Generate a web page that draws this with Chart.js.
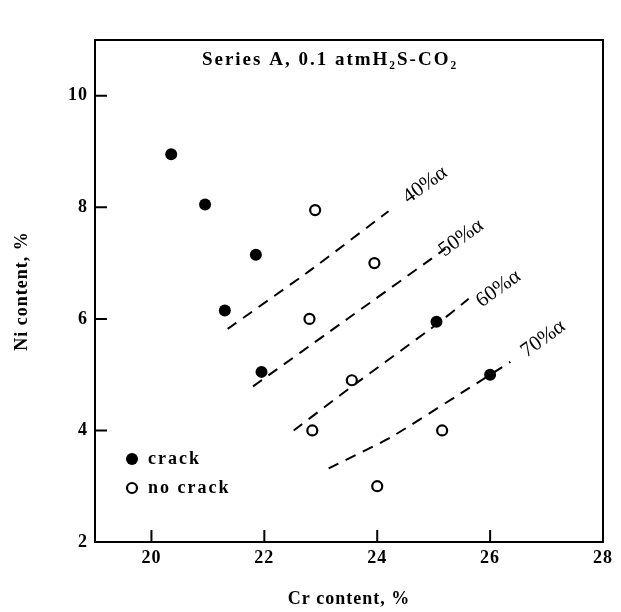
<!DOCTYPE html>
<html>
<head>
<meta charset="utf-8">
<script src="https://cdn.jsdelivr.net/npm/chart.js@4.4.1/dist/chart.umd.min.js"></script>
<style>
  html, body { margin: 0; padding: 0; background: #fff; }
  #wrap { width: 621px; height: 612px; position: relative; }
</style>
</head>
<body>
<div id="wrap"><canvas id="graph"></canvas></div>
<script>
// data (Cr %, Ni %)
var crackCr = [20.35, 20.95, 21.85, 21.3, 21.95, 25.05, 26.0];
var crackNi = [8.95, 8.05, 7.15, 6.15, 5.05, 5.95, 5.0];
var noCrackCr = [22.9, 23.95, 22.8, 23.55, 22.85, 25.15, 24.0];
var noCrackNi = [7.95, 7.0, 6.0, 4.9, 4.0, 4.0, 3.0];

// iso-ferrite lines
var line40Cr = [21.35, 22.8, 24.2];
var line40Ni = [5.82, 6.86, 7.93];
var line50Cr = [21.8, 23.5, 25.21];
var line50Ni = [4.79, 6.02, 7.26];
var line60Cr = [22.52, 23.54, 25.05, 25.62];
var line60Ni = [4.0, 4.78, 5.9, 6.36];
var line70Cr = [23.14, 24.23, 25.52, 26.36];
var line70Ni = [3.32, 3.87, 4.69, 5.23];

var lineNames = ['40%α', '50%α', '60%α', '70%α'];
var lineLabelCr = [24.85, 25.49, 26.15, 26.94];
var lineLabelNi = [8.40, 7.45, 6.54, 5.64];

var xTicks = [20, 22, 24, 26, 28];
var yTicks = [2, 4, 6, 8, 10];

function pts(xs, ys) {
    var out = [];
    for (var i = 0; i < xs.length; i++) {
        out.push({x: xs[i], y: ys[i]});
    }
    return out;
}

var serif = '"Liberation Serif", "DejaVu Serif", serif';

function dashed(xs, ys) {
    return {
        type: 'line',
        data: pts(xs, ys),
        showLine: true,
        borderColor: '#000',
        borderWidth: 2,
        borderDash: [11, 8],
        pointRadius: 0,
        fill: false,
        tension: 0.15
    };
}

var extras = {
    id: 'extras',
    beforeDraw: function(chart) {
        chart.ctx.letterSpacing = '1px';
    },
    afterDraw: function(chart) {
        var ctx = chart.ctx;
        var a = chart.chartArea;
        var xs = chart.scales.x, ys = chart.scales.y;
        ctx.save();
        // frame
        ctx.strokeStyle = '#000';
        ctx.lineWidth = 2;
        ctx.strokeRect(a.left, a.top, a.right - a.left, a.bottom - a.top);
        // inward ticks
        ctx.beginPath();
        xTicks.forEach(function(v) {
            var px = xs.getPixelForValue(v);
            ctx.moveTo(px, a.bottom);
            ctx.lineTo(px, a.bottom - 12);
        });
        yTicks.forEach(function(v) {
            var py = ys.getPixelForValue(v);
            ctx.moveTo(a.left, py);
            ctx.lineTo(a.left + 12, py);
        });
        ctx.stroke();

        // title inside the plot
        ctx.fillStyle = '#000';
        ctx.letterSpacing = '2px';
        ctx.font = 'bold 19px ' + serif;
        ctx.textAlign = 'center';
        ctx.textBaseline = 'middle';
        ctx.fillText('Series A, 0.1 atmH₂S-CO₂', (a.left + a.right) / 2 - 19, a.top + 20);

        // line labels
        ctx.font = '21px ' + serif;
        ctx.letterSpacing = '0px';
        for (var i = 0; i < lineNames.length; i++) {
            ctx.save();
            ctx.translate(xs.getPixelForValue(lineLabelCr[i]), ys.getPixelForValue(lineLabelNi[i]));
            ctx.rotate(-36 * Math.PI / 180);
            ctx.fillText(lineNames[i], 0, 0);
            ctx.restore();
        }

        // legend
        ctx.letterSpacing = '2px';
        ctx.font = 'bold 18px ' + serif;
        ctx.textAlign = 'left';
        var lx = a.left + 37, ly = a.bottom - 83;
        ctx.beginPath();
        ctx.arc(lx, ly, 6, 0, Math.PI * 2);
        ctx.fill();
        ctx.fillText('crack', lx + 16, ly);
        ctx.beginPath();
        ctx.lineWidth = 2.2;
        ctx.arc(lx, ly + 29, 5, 0, Math.PI * 2);
        ctx.stroke();
        ctx.fillText('no crack', lx + 16, ly + 29);
        ctx.restore();
    }
};

var ctx = document.getElementById('graph');
var chart = new Chart(ctx, {
    type: 'scatter',
    data: {
        datasets: [
            {
                label: 'crack',
                data: pts(crackCr, crackNi),
                backgroundColor: '#000',
                borderColor: '#000',
                pointRadius: 6,
                borderWidth: 0
            },
            {
                label: 'no crack',
                data: pts(noCrackCr, noCrackNi),
                backgroundColor: '#fff',
                borderColor: '#000',
                pointRadius: 5,
                borderWidth: 2.2
            },
            dashed(line40Cr, line40Ni),
            dashed(line50Cr, line50Ni),
            dashed(line60Cr, line60Ni),
            dashed(line70Cr, line70Ni)
        ]
    },
    options: {
        responsive: true,
        maintainAspectRatio: false,
        animation: false,
        layout: { padding: { left: 0, right: 18, top: 40, bottom: 0 } },
        plugins: {
            legend: { display: false },
            tooltip: { enabled: false }
        },
        scales: {
            x: {
                type: 'linear',
                min: 19,
                max: 28,
                afterBuildTicks: function(s) { s.ticks = xTicks.map(function(v) { return {value: v}; }); },
                afterFit: function(s) { s.height = 70; },
                grid: { display: false, drawTicks: false },
                border: { display: false },
                ticks: { color: '#000', padding: 6, font: { family: serif, size: 18, weight: 'bold' } },
                title: {
                    display: true,
                    text: 'Cr content, %',
                    color: '#000',
                    padding: { top: 0, bottom: 2 },
                    font: { family: serif, size: 18, weight: 'bold' }
                }
            },
            y: {
                type: 'linear',
                min: 2,
                max: 11,
                afterBuildTicks: function(s) { s.ticks = yTicks.map(function(v) { return {value: v}; }); },
                afterFit: function(s) { s.width = 95; },
                grid: { display: false, drawTicks: false },
                border: { display: false },
                ticks: { color: '#000', padding: 7, font: { family: serif, size: 18, weight: 'bold' } },
                title: {
                    display: true,
                    text: 'Ni content, %',
                    color: '#000',
                    padding: { top: 12, bottom: 0 },
                    font: { family: serif, size: 18, weight: 'bold' }
                }
            }
        }
    },
    plugins: [extras]
});
</script>
</body>
</html>
